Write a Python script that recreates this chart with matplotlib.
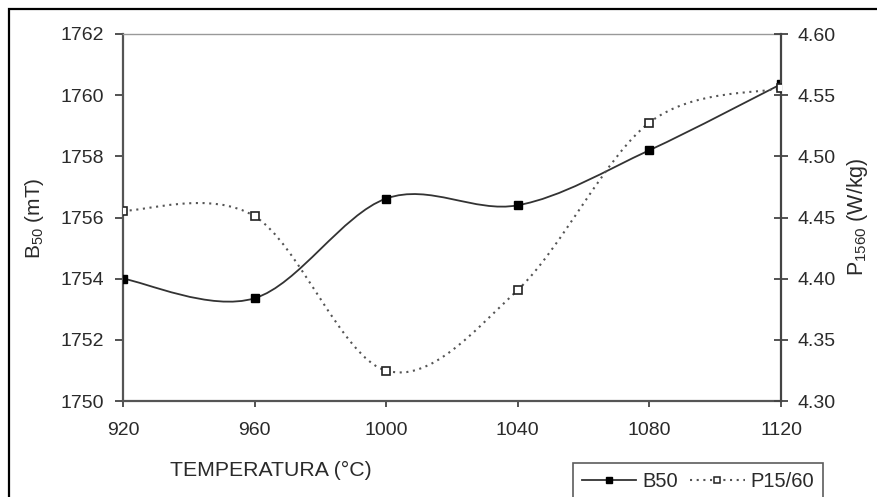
import matplotlib
matplotlib.use("Agg")
import matplotlib.pyplot as plt
import numpy as np
from matplotlib.path import Path
from matplotlib.patches import PathPatch, Rectangle
from matplotlib.lines import Line2D
from matplotlib.ticker import FormatStrFormatter

plt.rcParams['font.family'] = ['Liberation Sans', 'DejaVu Sans']
plt.rcParams['mathtext.fontset'] = 'custom'
plt.rcParams['mathtext.rm'] = 'Liberation Sans'
plt.rcParams['mathtext.it'] = 'Liberation Sans'

temperature = [920, 960, 1000, 1040, 1080, 1120]
b50 = [1754.0, 1753.36, 1756.62, 1756.4, 1758.2, 1760.36]
p1560 = [4.4556, 4.451, 4.3248, 4.3908, 4.5276, 4.5557]


def smooth_path(xs, ys):
    # Excel-style smoothed line: cubic Bezier segments through the points
    pts = np.column_stack([xs, ys]).astype(float)
    n = len(pts)
    verts = [pts[0]]
    codes = [Path.MOVETO]
    for i in range(n - 1):
        p0 = pts[max(i - 1, 0)]
        p1 = pts[i]
        p2 = pts[i + 1]
        p3 = pts[min(i + 2, n - 1)]
        c1 = p1 + (p2 - p0) / 6.0
        c2 = p2 - (p3 - p1) / 6.0
        verts += [c1, c2, p2]
        codes += [Path.CURVE4] * 3
    return Path(verts, codes)


fig = plt.figure(figsize=(8.77, 4.97), dpi=100)
ax = fig.add_axes([123 / 877, 96 / 497, 658 / 877, 367 / 497])
ax2 = ax.twinx()

ax.add_patch(PathPatch(smooth_path(temperature, b50), fill=False,
                       edgecolor='#333333', lw=1.3, zorder=3))
ax.plot(temperature, b50, ls='none', marker='s', ms=6, color='black', zorder=4)

ax2.add_patch(PathPatch(smooth_path(temperature, p1560), fill=False,
                        edgecolor='#555555', lw=1.5, ls=(0, (1, 2.2)), zorder=3))
ax2.plot(temperature, p1560, ls='none', marker='s', ms=5.5, mfc='white',
         mec='#222222', mew=1.2, zorder=4)

ax.set_xlim(920, 1120)
ax.set_ylim(1750, 1762)
ax2.set_ylim(4.30, 4.60)
ax.set_xticks(np.arange(920, 1121, 40))
ax.set_yticks(np.arange(1750, 1763, 2))
ax2.set_yticks(np.arange(4.30, 4.601, 0.05))
ax2.yaxis.set_major_formatter(FormatStrFormatter('%.2f'))

for a in (ax, ax2):
    for s in a.spines.values():
        s.set_visible(False)
ax.spines['left'].set_visible(True)
ax.spines['left'].set_color('#555555')
ax.spines['left'].set_linewidth(1.6)
ax.spines['bottom'].set_visible(True)
ax.spines['bottom'].set_color('#555555')
ax.spines['bottom'].set_linewidth(1.6)
ax.spines['top'].set_visible(True)
ax.spines['top'].set_color('#999999')
ax.spines['top'].set_linewidth(1.0)
ax2.spines['right'].set_visible(True)
ax2.spines['right'].set_color('#444444')
ax2.spines['right'].set_linewidth(1.6)

ax.tick_params(axis='y', direction='out', length=6, width=1.3, color='#444444',
               labelsize=14, labelcolor='#2a2a2a', pad=7.5)
ax.tick_params(axis='x', direction='out', length=4.5, width=1.3, color='#444444',
               labelsize=14, labelcolor='#2a2a2a', pad=10.5)
ax2.tick_params(axis='y', direction='inout', length=10, width=1.3, color='#444444',
                labelsize=14, labelcolor='#2a2a2a', pad=7)

fig.text(35 / 877, 1 - 218 / 497, r'B$_{50}$ (mT)', rotation=90, ha='center',
         va='center', fontsize=15, color='#2a2a2a')
fig.text(857 / 877, 1 - 217 / 497, r'P$_{1560}$ (W/kg)', rotation=90, ha='center',
         va='center', fontsize=15.5, color='#2a2a2a')
fig.text(271 / 877, 1 - 470 / 497, 'TEMPERATURA (°C)', ha='center', va='center',
         fontsize=15.3, color='#2a2a2a')

handles = [
    Line2D([], [], color='#333333', lw=1.3, marker='s', ms=4.5, mfc='black', mec='black'),
    Line2D([], [], color='#555555', lw=1.5, ls=(0, (1, 2.2)), marker='s', ms=4,
           mfc='white', mec='#222222', mew=1.1),
]
leg = fig.legend(handles, ['B50', 'P15/60'], loc='upper left',
                 bbox_to_anchor=(573 / 877, 1 - 463 / 497), ncol=2, frameon=True,
                 fancybox=False, edgecolor='#333333', fontsize=14.5,
                 handlelength=2.7, handletextpad=0.3, columnspacing=0.6,
                 borderpad=0.45, borderaxespad=0)
leg.get_frame().set_linewidth(1.2)
for t in leg.get_texts():
    t.set_color('#2a2a2a')

fig.patches.append(Rectangle((9 / 877, -0.1), 1.2, 1 - 9 / 497 + 0.1,
                             transform=fig.transFigure, fill=False,
                             edgecolor='black', lw=1.6, zorder=10))

fig.savefig('out.png', dpi=100)
